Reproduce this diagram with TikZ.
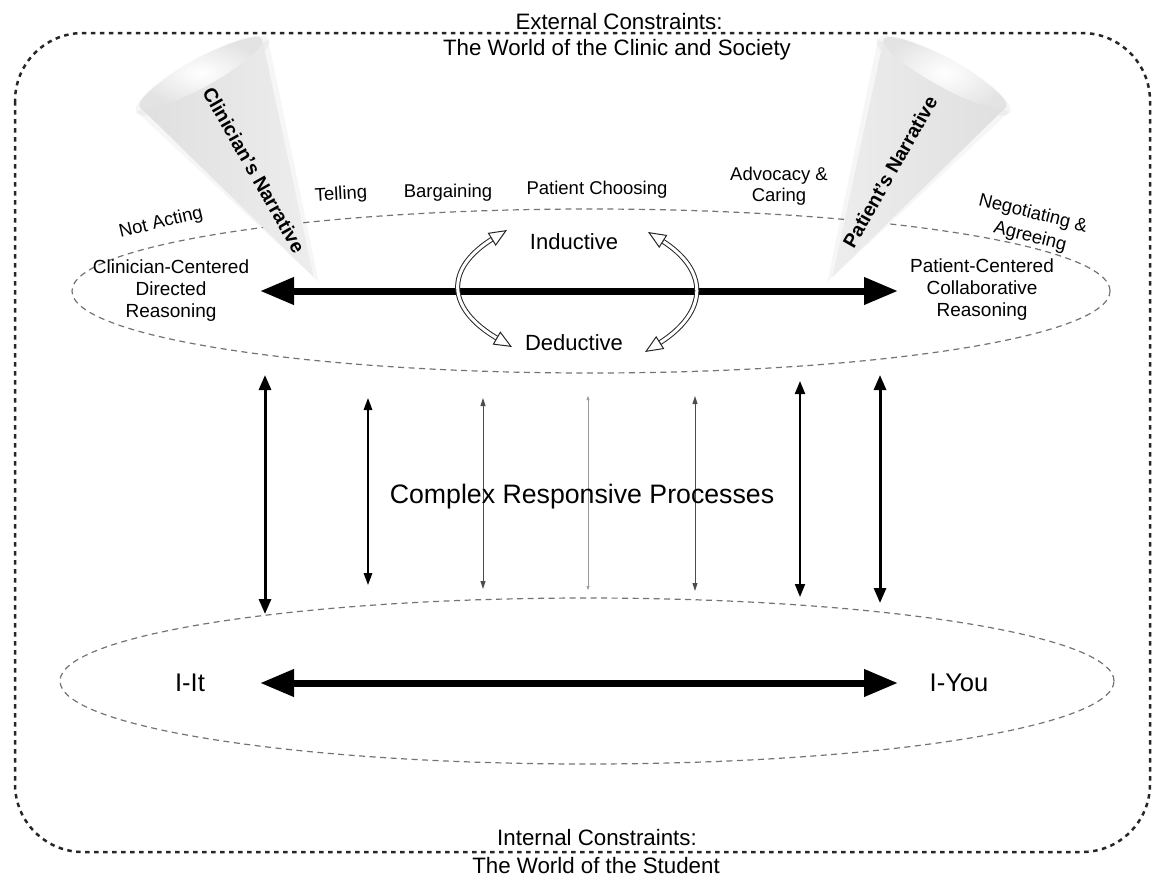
\documentclass[tikz,border=0pt]{standalone}
\usepackage{fontspec}
\setmainfont{Liberation Sans}
\usetikzlibrary{arrows.meta,calc,shapes.geometric}
\begin{document}
\begin{tikzpicture}[x=1pt,y=-1pt,
  framebox/.style={draw=black!85, line width=2.5pt, dash pattern=on 4.5pt off 4.5pt, rounded corners=68pt},
  ellp/.style={draw=black!55, line width=1.2pt, dash pattern=on 6pt off 4.5pt, ellipse, inner sep=0pt},
  lbltxt/.style={font=\fontsize{18.5}{21}\selectfont, inner sep=0pt, align=center},
  sidetxt/.style={font=\fontsize{19}{22}\selectfont, inner sep=0pt, align=center},
  captxt/.style={font=\fontsize{22.3}{26}\selectfont, inner sep=0pt},
  midtxt/.style={font=\fontsize{22}{26}\selectfont, inner sep=0pt},
  bigtxt/.style={font=\fontsize{25.5}{30}\selectfont, inner sep=0pt},
  crptxt/.style={font=\fontsize{26.7}{30}\selectfont, inner sep=0pt},
  conetxt/.style={font=\bfseries\fontsize{19.5}{22}\selectfont, inner sep=0pt},
  hbar/.style={line width=7pt, {Triangle[length=34pt,width=26pt]}-{Triangle[length=34pt,width=26pt]}},
  vA/.style={line width=3pt, {Triangle[length=15pt,width=12pt]}-{Triangle[length=15pt,width=12pt]}},
  vB/.style={line width=1.6pt, {Triangle[length=12pt,width=8.5pt]}-{Triangle[length=12pt,width=8.5pt]}},
  vBB/.style={line width=2.1pt, {Triangle[length=13pt,width=10pt]}-{Triangle[length=13pt,width=10pt]}},
  vC/.style={line width=0.9pt, draw=black!70, {Triangle[length=8pt,width=5pt]}-{Triangle[length=8pt,width=5pt]}},
  vD/.style={line width=0.6pt, draw=black!40, {Triangle[length=4pt,width=3pt]}-{Triangle[length=4pt,width=3pt]}},
  dbl/.style={draw=black!85, line width=1pt, double=white, double distance=3pt, shorten <=16pt, shorten >=16pt},
  otip/.style={draw=black!85, line width=1pt, -{Triangle[open,length=18pt,width=15pt,fill=white]}},
]
\useasboundingbox (0,0) rectangle (1155,881);

% outer frame
\draw[framebox] (15,33) rectangle (1150,852);
\node[captxt] (ext1) at (619,22) {External Constraints:};
\node[captxt] (ext2) at (617,50) {The World of the Clinic and Society};
\node[captxt] (int1) at (597,838) {Internal Constraints:};
\node[captxt] (int2) at (596,866) {The World of the Student};

% ellipses
\node[ellp, minimum width=1038pt, minimum height=164pt] (upper) at (591,291) {};
\node[ellp, minimum width=1054pt, minimum height=166pt] (lower) at (587,681) {};

% left cone
\begin{scope}[shift={(201,73)}, rotate=28.9]
  \fill[black, opacity=0.035] (-75,3) -- (2,240) -- (75,3) -- cycle;
  \fill[black, opacity=0.035] (0,3) ellipse [x radius=76pt, y radius=18pt];
  \shade[left color=gray!25, middle color=white, right color=gray!14] (-70,0) -- (0,233) -- (70,0) -- cycle;
  \shade[inner color=white, outer color=gray!22] (0,0) ellipse [x radius=70pt, y radius=14pt];
\end{scope}
% right cone
\begin{scope}[shift={(945,73)}, rotate=-28.9]
  \fill[black, opacity=0.035] (-75,3) -- (-2,240) -- (75,3) -- cycle;
  \fill[black, opacity=0.035] (0,3) ellipse [x radius=76pt, y radius=18pt];
  \shade[left color=gray!14, middle color=white, right color=gray!25] (-70,0) -- (0,233) -- (70,0) -- cycle;
  \shade[inner color=white, outer color=gray!22] (0,0) ellipse [x radius=70pt, y radius=14pt];
\end{scope}
\node[conetxt, rotate=-60.4] (cnar) at (254,170) {Clinician's Narrative};
\node[conetxt, rotate=60.4] (pnar) at (890,172) {Patient's Narrative};

% labels on the upper ellipse
\node[lbltxt, rotate=13.5] (notact) at (161,223) {Not Acting};
\node[lbltxt, rotate=3] (tell) at (341,195) {Telling};
\node[lbltxt] (barg) at (448,193) {Bargaining};
\node[lbltxt] (pchoose) at (597,190) {Patient Choosing};
\node[lbltxt] (advoc) at (779,186) {Advocacy \&\\Caring};
\node[lbltxt, rotate=-14] (nego1) at (1033,214) {Negotiating \&};
\node[lbltxt, rotate=-14] (nego2) at (1030,237) {Agreeing};

\node[sidetxt] (ccr) at (171,291) {Clinician-Centered\\Directed\\Reasoning};
\node[sidetxt] (pcr) at (982,290) {Patient-Centered\\Collaborative\\Reasoning};

\node[midtxt] (ind) at (574,242) {Inductive};
\node[midtxt] (ded) at (574,343) {Deductive};

% horizontal arrows
\coordinate (ul) at (260,291);
\coordinate (ur) at (898,291);
\draw[hbar] (ul) -- (ur);
\coordinate (ll) at (260,683);
\coordinate (lr) at (898,683);
\draw[hbar] (ll) -- (lr);

\node[bigtxt] (iit) at (190,683) {I-It};
\node[bigtxt] (iyou) at (959,683) {I-You};

% inductive / deductive double arrows
\coordinate (a1) at (507,230);
\coordinate (a2) at (512,347);
\coordinate (b1) at (648,232);
\coordinate (b2) at (645,352);
\draw[dbl] (a1) .. controls (445,268) and (445,308) .. (a2);
\draw[dbl] (b1) .. controls (709,270) and (709,312) .. (b2);
\draw[otip] ($(a1)!18pt!(445,268)$) -- (a1);
\draw[otip] ($(a2)!18pt!(445,308)$) -- (a2);
\draw[otip] ($(b1)!18pt!(709,270)$) -- (b1);
\draw[otip] ($(b2)!18pt!(709,312)$) -- (b2);

% vertical arrows
\coordinate (v1t) at (265,375); \coordinate (v1b) at (265,614);
\coordinate (v2t) at (368,398); \coordinate (v2b) at (368,585);
\coordinate (v3t) at (483,398); \coordinate (v3b) at (483,589);
\coordinate (v4t) at (588,396); \coordinate (v4b) at (588,590);
\coordinate (v5t) at (695,396); \coordinate (v5b) at (695,591);
\coordinate (v6t) at (800,381); \coordinate (v6b) at (800,597);
\coordinate (v7t) at (880,375); \coordinate (v7b) at (880,603);
\draw[vA] (v1t) -- (v1b);
\draw[vB] (v2t) -- (v2b);
\draw[vC] (v3t) -- (v3b);
\draw[vD] (v4t) -- (v4b);
\draw[vC] (v5t) -- (v5b);
\draw[vBB] (v6t) -- (v6b);
\draw[vA] (v7t) -- (v7b);

\node[crptxt] (crp) at (582,497) {Complex Responsive Processes};
\end{tikzpicture}
\end{document}
